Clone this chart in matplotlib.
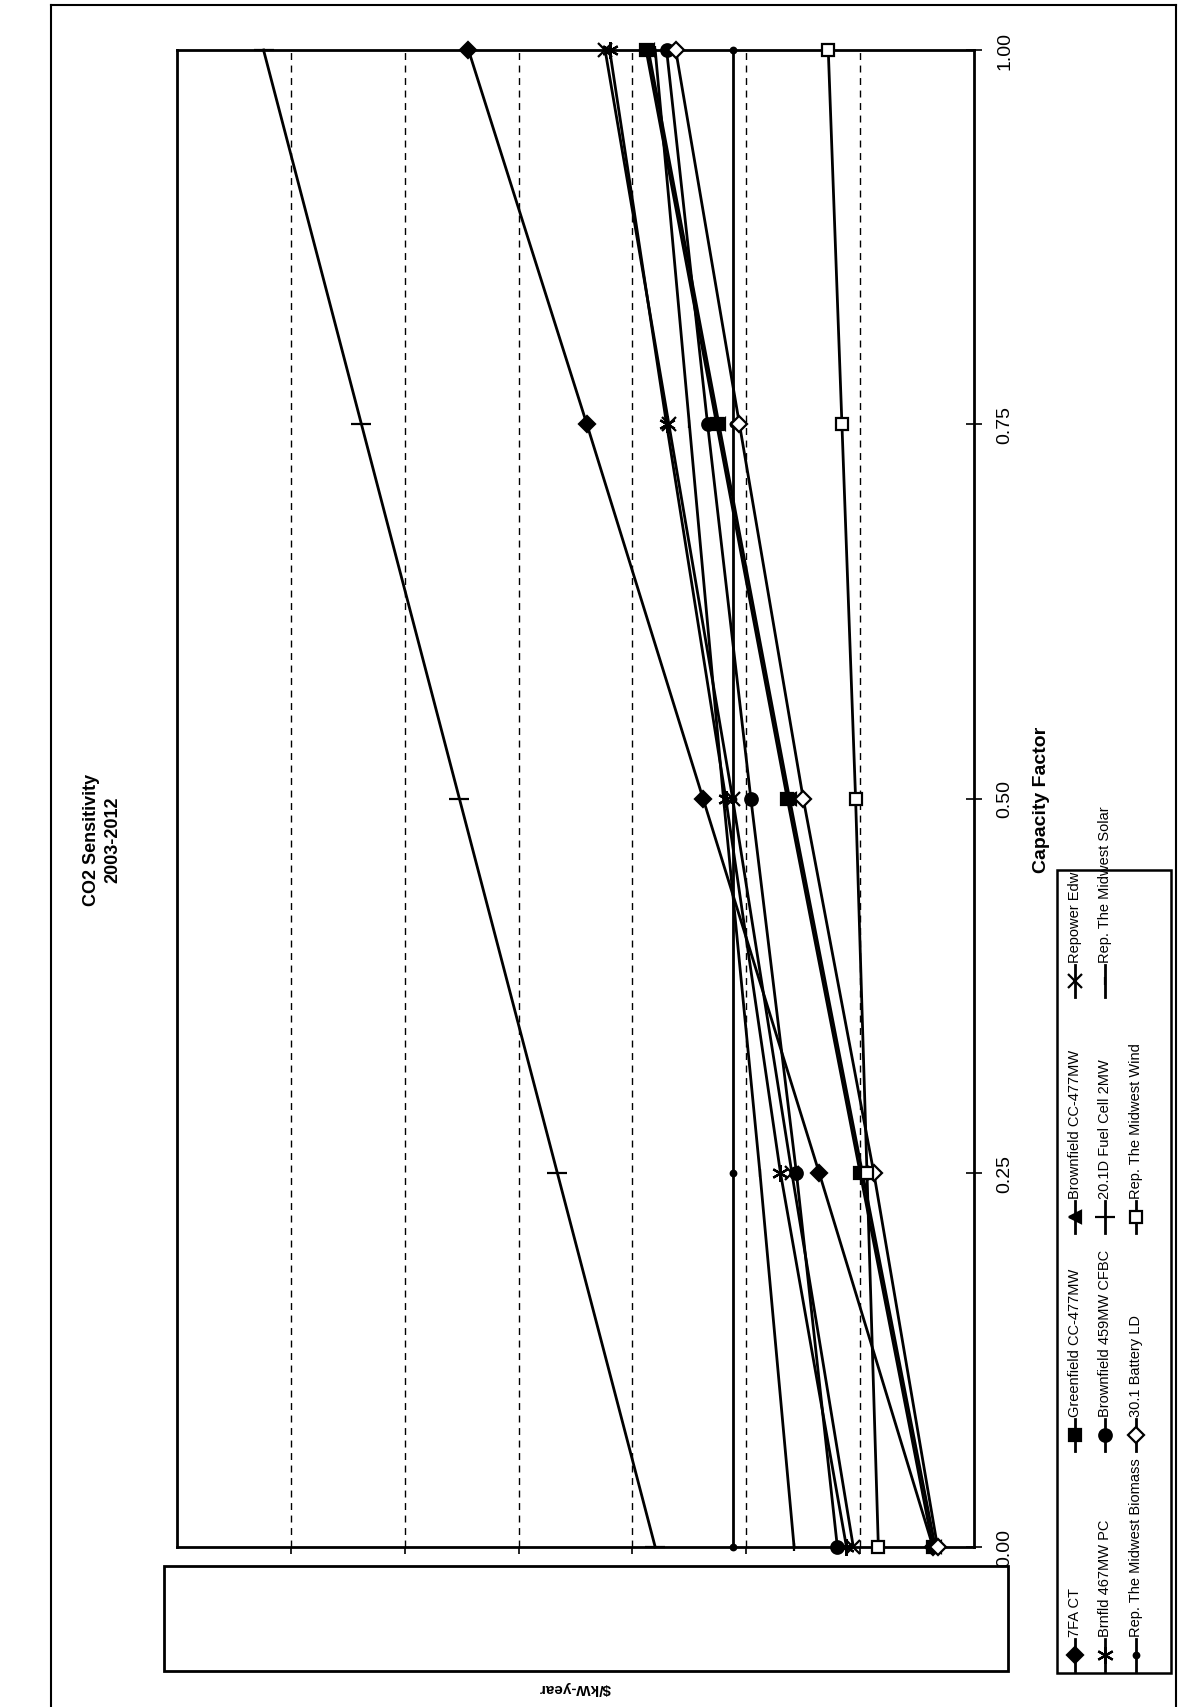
import matplotlib.pyplot as plt
from matplotlib.patches import Rectangle

plt.rcParams['font.family'] = ['Liberation Sans', 'DejaVu Sans']

# capacity factor (vertical axis of the rotated page)
cf = [0.0, 0.25, 0.5, 0.75, 1.0]

# $/kW-year (no tick labels printed on it)
fa7_ct = [18, 68, 119, 170, 222]
greenfield_cc = [18, 50, 82, 113, 144]
brownfield_cc = [17, 49, 81, 112, 143]
repower_edw = [53, 80, 106, 134, 162]
brnfld_pc = [56, 85, 109, 135, 160]
brownfield_cfbc = [60, 78, 98, 117, 135]
fuel_cell = [140, 183, 226, 269, 312]
midwest_solar = [79, 94, 110, 125, 140]
midwest_biomass = [106, 106, 106, 106, 106]
battery_ld = [16, 44, 75, 103, 131]
midwest_wind = [42, 47, 52, 58, 64]

value_grid = [50, 100, 150, 200, 250, 300]
cf_ticks = [0.0, 0.25, 0.5, 0.75, 1.0]
cf_labels = ["0.00", "0.25", "0.50", "0.75", "1.00"]

# name, values, marker, size, face
series = [
    ("7FA CT", fa7_ct, "D", 8, "black"),
    ("Greenfield CC-477MW", greenfield_cc, "s", 9, "black"),
    ("Brownfield CC-477MW", brownfield_cc, "<", 9, "black"),
    ("Repower Edw", repower_edw, "x", 10, "black"),
    ("Brnfld 467MW PC", brnfld_pc, (6, 2, 0), 12, "black"),
    ("Brownfield 459MW CFBC", brownfield_cfbc, "o", 9, "black"),
    ("20.1D Fuel Cell 2MW", fuel_cell, "_", 14, "black"),
    ("Rep. The Midwest Solar", midwest_solar, "|", 6, "black"),
    ("Rep. The Midwest Biomass", midwest_biomass, "o", 4, "black"),
    ("30.1 Battery LD", battery_ld, "D", 8, "white"),
    ("Rep. The Midwest Wind", midwest_wind, "s", 9, "white"),
]

W, H = 1183, 1708
fig = plt.figure(figsize=(W / 100, H / 100), dpi=100)

# page overlay in pixel coordinates
page = fig.add_axes([0, 0, 1, 1])
page.set_xlim(0, W)
page.set_ylim(H, 0)
page.axis("off")

L, R, T, B = 177, 974, 51, 1548
ax = fig.add_axes([L / W, 1 - B / H, (R - L) / W, (B - T) / H])

for name, vals, mk, ms, face in series:
    ax.plot(vals, cf, color="black", lw=2, marker=mk, ms=ms,
            mfc=face, mec="black", mew=1.6, clip_on=False, zorder=3)

ax.set_xlim(350, 0)
ax.set_ylim(0, 1)
ax.set_xticks(value_grid)
ax.set_xticklabels([])
ax.grid(axis="x", color="black", ls=(0, (5, 4)), lw=1)
ax.tick_params(axis="x", direction="out", length=5, width=1.2)

ax.yaxis.tick_right()
ax.set_yticks(cf_ticks)
ax.set_yticklabels(cf_labels, rotation=90, va="center", ha="left")
ax.tick_params(axis="y", direction="inout", length=12, width=1.2,
               labelsize=14, pad=10)
ax.yaxis.set_label_position("right")
ax.set_ylabel("Capacity Factor", fontsize=14, fontweight="bold",
              rotation=90, labelpad=14)
for s in ax.spines.values():
    s.set_linewidth(2)

# title
page.text(102, 840, "CO2 Sensitivity\n2003-2012", rotation=90, ha="center",
          va="center", fontsize=13, fontweight="bold", linespacing=1.3)

# blank value-label box and upside-down axis title
page.add_patch(Rectangle((164, 1567), 1008 - 164, 1672 - 1567,
                         fill=False, lw=2, ec="black"))
page.text(575, 1688, "$/kW-year", rotation=180, ha="center", va="center",
          fontsize=11, fontweight="bold")

# page border
page.plot([51, 51], [H, 6], color="black", lw=1.5)
page.plot([51, 1176], [6, 6], color="black", lw=1.5)
page.plot([1176, 1176], [6, H], color="black", lw=1.5)

# legend (rotated)
lx0, ly0, lx1, ly1 = 1057, 871, 1171, 1674
page.add_patch(Rectangle((lx0, ly0), lx1 - lx0, ly1 - ly0, fill=False,
                         lw=1.8, ec="black"))
row_x = [1075, 1105, 1136]
col_y = [1656, 1436, 1218, 982]
for i, (name, vals, mk, ms, face) in enumerate(series):
    r, c = divmod(i, 4)
    hx, hy = row_x[r], col_y[c]
    page.plot([hx, hx], [hy - 16, hy + 16], color="black", lw=2)
    page.plot([hx], [hy], ls="none", marker=mk, ms=ms, mfc=face,
              mec="black", mew=1.6)
    page.text(hx, hy - 19, name, rotation=90, rotation_mode="anchor",
              ha="left", va="center", fontsize=10.5)

fig.savefig("out.png", dpi=100)
